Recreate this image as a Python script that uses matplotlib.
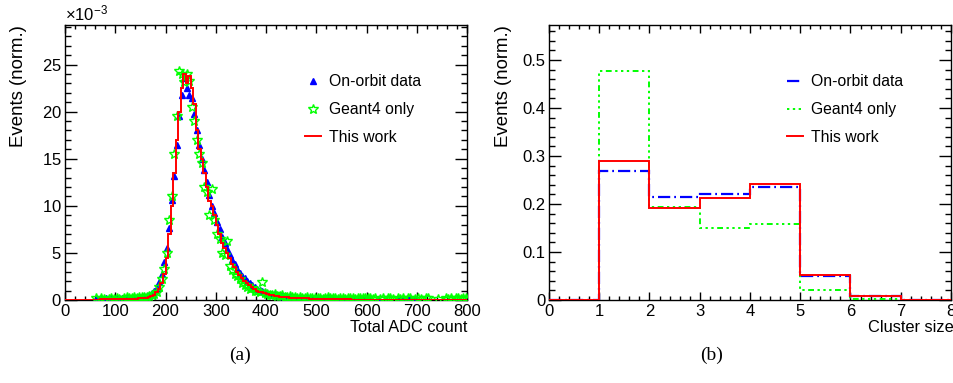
import numpy as np
import matplotlib
matplotlib.use("Agg")
import matplotlib.pyplot as plt
from matplotlib.ticker import MultipleLocator, ScalarFormatter, FuncFormatter

plt.rcParams['font.family'] = ['Liberation Sans', 'DejaVu Sans']
plt.rcParams['axes.unicode_minus'] = False
plt.rcParams['mathtext.fontset'] = 'custom'
plt.rcParams['mathtext.rm'] = 'Liberation Sans'

nan = np.nan
# ---------------- Panel (a): Total ADC count, 5-ADC bins from 0 to 800 (values x1e-3)
adc_edges = np.arange(0, 805, 5)
onorbit_adc = [
    nan, nan, nan, nan, nan, nan, nan, nan, nan, nan,
    nan, nan, 0.15, 0.12, 0.18, 0.14, 0.20, 0.15, 0.18, 0.12,
    0.20, 0.16, 0.22, 0.18, 0.20, 0.25, 0.20, 0.25, 0.28, 0.30,
    0.32, 0.38, 0.45, 0.55, 0.70, 0.95, 1.3, 1.9, 2.8, 4.0,
    5.5, 7.6, 10.6, 13.2, 16.5, 19.5, 21.8, 23.6, 22.5, 21.8,
    21.5, 19.8, 18.0, 16.5, 15.0, 13.8, 12.5, 11.2, 10.0, 9.2,
    8.3, 7.5, 6.7, 6.0, 5.4, 4.8, 4.2, 3.8, 3.3, 2.9,
    2.6, 2.3, 2.0, 1.8, 1.6, 1.4, 1.2, 1.05, 0.95, 0.85,
    0.75, 0.68, 0.60, 0.55, 0.50, 0.45, 0.40, 0.37, 0.34, 0.32,
    0.30, 0.28, 0.26, 0.25, 0.24, 0.22, 0.21, 0.20, 0.20, 0.18,
    0.18, 0.16, 0.17, 0.15, 0.16, 0.14, 0.15, 0.13, 0.14, 0.12,
    0.13, 0.12, 0.12, 0.11, 0.12, 0.10, 0.11, 0.10, 0.10, 0.09,
    0.10, 0.09, nan, nan, 0.08, nan, nan, nan, nan, nan,
    nan, nan, 0.08, 0.09, 0.10, 0.08, 0.09, 0.08, 0.07, 0.08,
    nan, nan, nan, nan, nan, nan, nan, nan, nan, nan,
    nan, nan, nan, nan, nan, nan, nan, nan, nan, nan,
]
geant4_adc = [
    nan, nan, nan, nan, nan, nan, nan, nan, nan, nan,
    nan, nan, 0.18, nan, 0.20, 0.10, nan, 0.15, 0.22, 0.12,
    0.25, 0.15, nan, 0.20, 0.30, 0.18, 0.22, 0.30, 0.20, 0.28,
    0.30, 0.35, 0.30, 0.45, 0.50, 0.60, 0.90, 1.4, 2.2, 3.3,
    5.0, 8.5, 11.0, 15.5, 19.5, 24.3, 24.0, 23.2, 24.0, 23.3,
    20.5, 19.0, 17.0, 15.5, 14.5, 12.0, 11.5, 9.0, 11.8, 8.5,
    7.0, 6.5, 5.0, 4.8, 6.3, 3.6, 3.2, 2.8, 2.5, 2.2,
    1.8, 1.6, 1.4, 1.2, 1.3, 1.0, 1.0, 0.9, 1.9, 0.7,
    0.60, 0.55, 0.50, 0.60, 0.45, 0.40, 0.50, 0.35, 0.30, 0.40,
    0.30, 0.35, 0.25, 0.30, 0.20, 0.25, 0.30, 0.20, 0.22, 0.25,
    0.20, 0.25, 0.15, 0.20, 0.30, 0.18, 0.22, 0.20, 0.15, 0.25,
    0.20, 0.15, 0.25, 0.18, 0.20, 0.15, 0.22, 0.18, 0.20, 0.25,
    0.20, 0.25, 0.15, 0.20, nan, 0.15, 0.20, nan, 0.18, 0.20,
    0.15, nan, 0.20, 0.15, 0.18, nan, 0.20, 0.20, nan, 0.15,
    0.20, 0.15, nan, 0.20, 0.18, nan, nan, nan, 0.15, nan,
    nan, 0.20, 0.15, 0.20, nan, 0.20, 0.18, 0.15, 0.20, 0.20,
]
thiswork_adc = [
    0, 0, 0, 0, 0, 0, 0, 0, 0, 0,
    0, 0, 0.05, 0.05, 0.06, 0.06, 0.06, 0.07, 0.07, 0.07,
    0.08, 0.08, 0.09, 0.09, 0.10, 0.11, 0.12, 0.13, 0.14, 0.16,
    0.18, 0.20, 0.25, 0.32, 0.40, 0.55, 0.80, 1.2, 1.8, 2.8,
    4.5, 7.0, 10.0, 13.5, 17.0, 20.0, 22.5, 24.0, 23.0, 23.8,
    22.5, 20.8, 18.0, 16.0, 15.0, 13.5, 12.0, 10.5, 10.0, 9.0,
    8.0, 7.0, 6.0, 5.5, 5.0, 4.5, 3.8, 3.5, 3.0, 2.7,
    2.3, 2.0, 1.8, 1.6, 1.4, 1.2, 1.0, 0.9, 0.8, 0.7,
    0.62, 0.55, 0.50, 0.45, 0.40, 0.36, 0.33, 0.30, 0.28, 0.26,
    0.24, 0.22, 0.20, 0.19, 0.18, 0.17, 0.16, 0.15, 0.14, 0.13,
    0.12, 0.11, 0.10, 0.10, 0.09, 0.09, 0.08, 0.08, 0.07, 0.07,
    0.07, 0.06, 0.06, 0.06, 0.05, 0.05, 0.05, 0.05, 0.04, 0.04,
    0.04, 0.04, 0.04, 0.03, 0.03, 0.03, 0.03, 0.03, 0.03, 0.02,
    0.02, 0.02, 0.02, 0.02, 0.02, 0.02, 0.02, 0.02, 0.02, 0.02,
    0.02, 0.02, 0.02, 0.02, 0.01, 0.01, 0.01, 0.01, 0.01, 0.01,
    0.01, 0.01, 0.01, 0.01, 0.01, 0.01, 0.01, 0.01, 0.01, 0.01,
]

# ---------------- Panel (b): cluster size
cluster_edges = [0, 1, 2, 3, 4, 5, 6, 7, 8]
onorbit_cluster = [0.0, 0.269, 0.214, 0.220, 0.235, 0.051, 0.009, 0.001]
geant4_cluster = [0.0, 0.477, 0.194, 0.149, 0.158, 0.021, 0.003, 0.0005]
thiswork_cluster = [0.0, 0.290, 0.192, 0.212, 0.242, 0.053, 0.008, 0.001]

labels = ["On-orbit data", "Geant4 only", "This work"]

W, H = 954, 383
fig = plt.figure(figsize=(W / 100, H / 100), dpi=100)

def px_axes(x0, x1, ytop, ybot):
    return fig.add_axes([x0 / W, (H - ybot) / H, (x1 - x0) / W, (ybot - ytop) / H])

axa = px_axes(65, 467, 25, 300)
axb = px_axes(549, 951, 25, 300)

TFS = 12.0
LFS = 13.4
GFS = 11.3
XFS = 11.8

def style(ax):
    for s in ax.spines.values():
        s.set_linewidth(1.0)
    ax.tick_params(which='both', direction='in', top=True, right=True, width=1.0,
                   labelsize=TFS, colors='black')
    ax.tick_params(axis='y', which='major', length=8.6, pad=2.5)
    ax.tick_params(axis='y', which='minor', length=4.3)
    ax.tick_params(axis='x', which='major', length=5.8, pad=3.0)
    ax.tick_params(axis='x', which='minor', length=2.9)

legend_kw = dict(loc='upper left', frameon=False, fontsize=GFS, handlelength=1.0,
                 handletextpad=0.5, labelspacing=0.8, borderpad=0, borderaxespad=0)

# ---- (a)
scale = 1e-3
centers = 0.5 * (adc_edges[:-1] + adc_edges[1:])
axa.plot(centers, np.array(onorbit_adc) * scale, linestyle='none', marker='^',
         color='#0000ff', markersize=5, label=labels[0], zorder=3)
axa.plot(centers, np.array(geant4_adc) * scale, linestyle='none', marker='*',
         markerfacecolor='none', markeredgecolor='#00ff00', markeredgewidth=1.0,
         markersize=7, label=labels[1], zorder=4)
axa.stairs(np.array(thiswork_adc) * scale, adc_edges, color='#ff0000', linewidth=1.4,
           label=labels[2], zorder=5)
axa.set_xlim(0, 800)
axa.set_ylim(0, 29.2e-3)
axa.xaxis.set_major_locator(MultipleLocator(100))
axa.xaxis.set_minor_locator(MultipleLocator(20))
axa.yaxis.set_major_locator(MultipleLocator(5e-3))
axa.yaxis.set_minor_locator(MultipleLocator(1e-3))
fmt = ScalarFormatter(useMathText=True)
fmt.set_powerlimits((-3, -3))
axa.yaxis.set_major_formatter(fmt)
axa.yaxis.get_offset_text().set_fontsize(TFS)
style(axa)
axa.set_ylabel("Events (norm.)", fontsize=LFS, loc='top')
axa.yaxis.set_label_coords(-0.095, 1.0)
axa.set_xlabel("Total ADC count", fontsize=XFS, loc='right')
axa.xaxis.set_label_coords(1.0, -0.072)
axa.legend(bbox_to_anchor=(0.597, 0.82), **legend_kw)

# ---- (b)
axb.stairs(geant4_cluster, cluster_edges, color='#00ff00', linewidth=1.4,
           linestyle=(0, (1.2, 1.8, 1.2, 1.8, 1.2, 1.8, 3, 1.8)), label=labels[1], zorder=3)
axb.stairs(onorbit_cluster, cluster_edges, color='#0000ff', linewidth=1.6,
           linestyle=(0, (5.5, 1.8, 0.8, 1.8)), label=labels[0], zorder=4)
axb.stairs(thiswork_cluster, cluster_edges, color='#ff0000', linewidth=1.4,
           label=labels[2], zorder=5)
axb.set_xlim(0, 8)
axb.set_ylim(0, 0.573)
axb.xaxis.set_major_locator(MultipleLocator(1))
axb.xaxis.set_minor_locator(MultipleLocator(0.2))
axb.yaxis.set_major_locator(MultipleLocator(0.1))
axb.yaxis.set_minor_locator(MultipleLocator(0.02))
axb.yaxis.set_major_formatter(FuncFormatter(lambda v, p: "0" if abs(v) < 1e-9 else f"{v:.1f}"))
style(axb)
axb.set_ylabel("Events (norm.)", fontsize=LFS, loc='top')
axb.yaxis.set_label_coords(-0.092, 1.0)
axb.set_xlabel("Cluster size", fontsize=XFS, loc='right')
axb.xaxis.set_label_coords(1.008, -0.072)
h, l = axb.get_legend_handles_labels()
order = [l.index(x) for x in labels]
axb.legend([h[i] for i in order], [l[i] for i in order],
           bbox_to_anchor=(0.592, 0.82), **legend_kw)

fig.text(240 / W, 1 - 355 / H, "(a)", fontsize=14, family='Liberation Serif',
         ha='center', va='center')
fig.text(712 / W, 1 - 355 / H, "(b)", fontsize=14, family='Liberation Serif',
         ha='center', va='center')

fig.savefig("out.png", dpi=100)
